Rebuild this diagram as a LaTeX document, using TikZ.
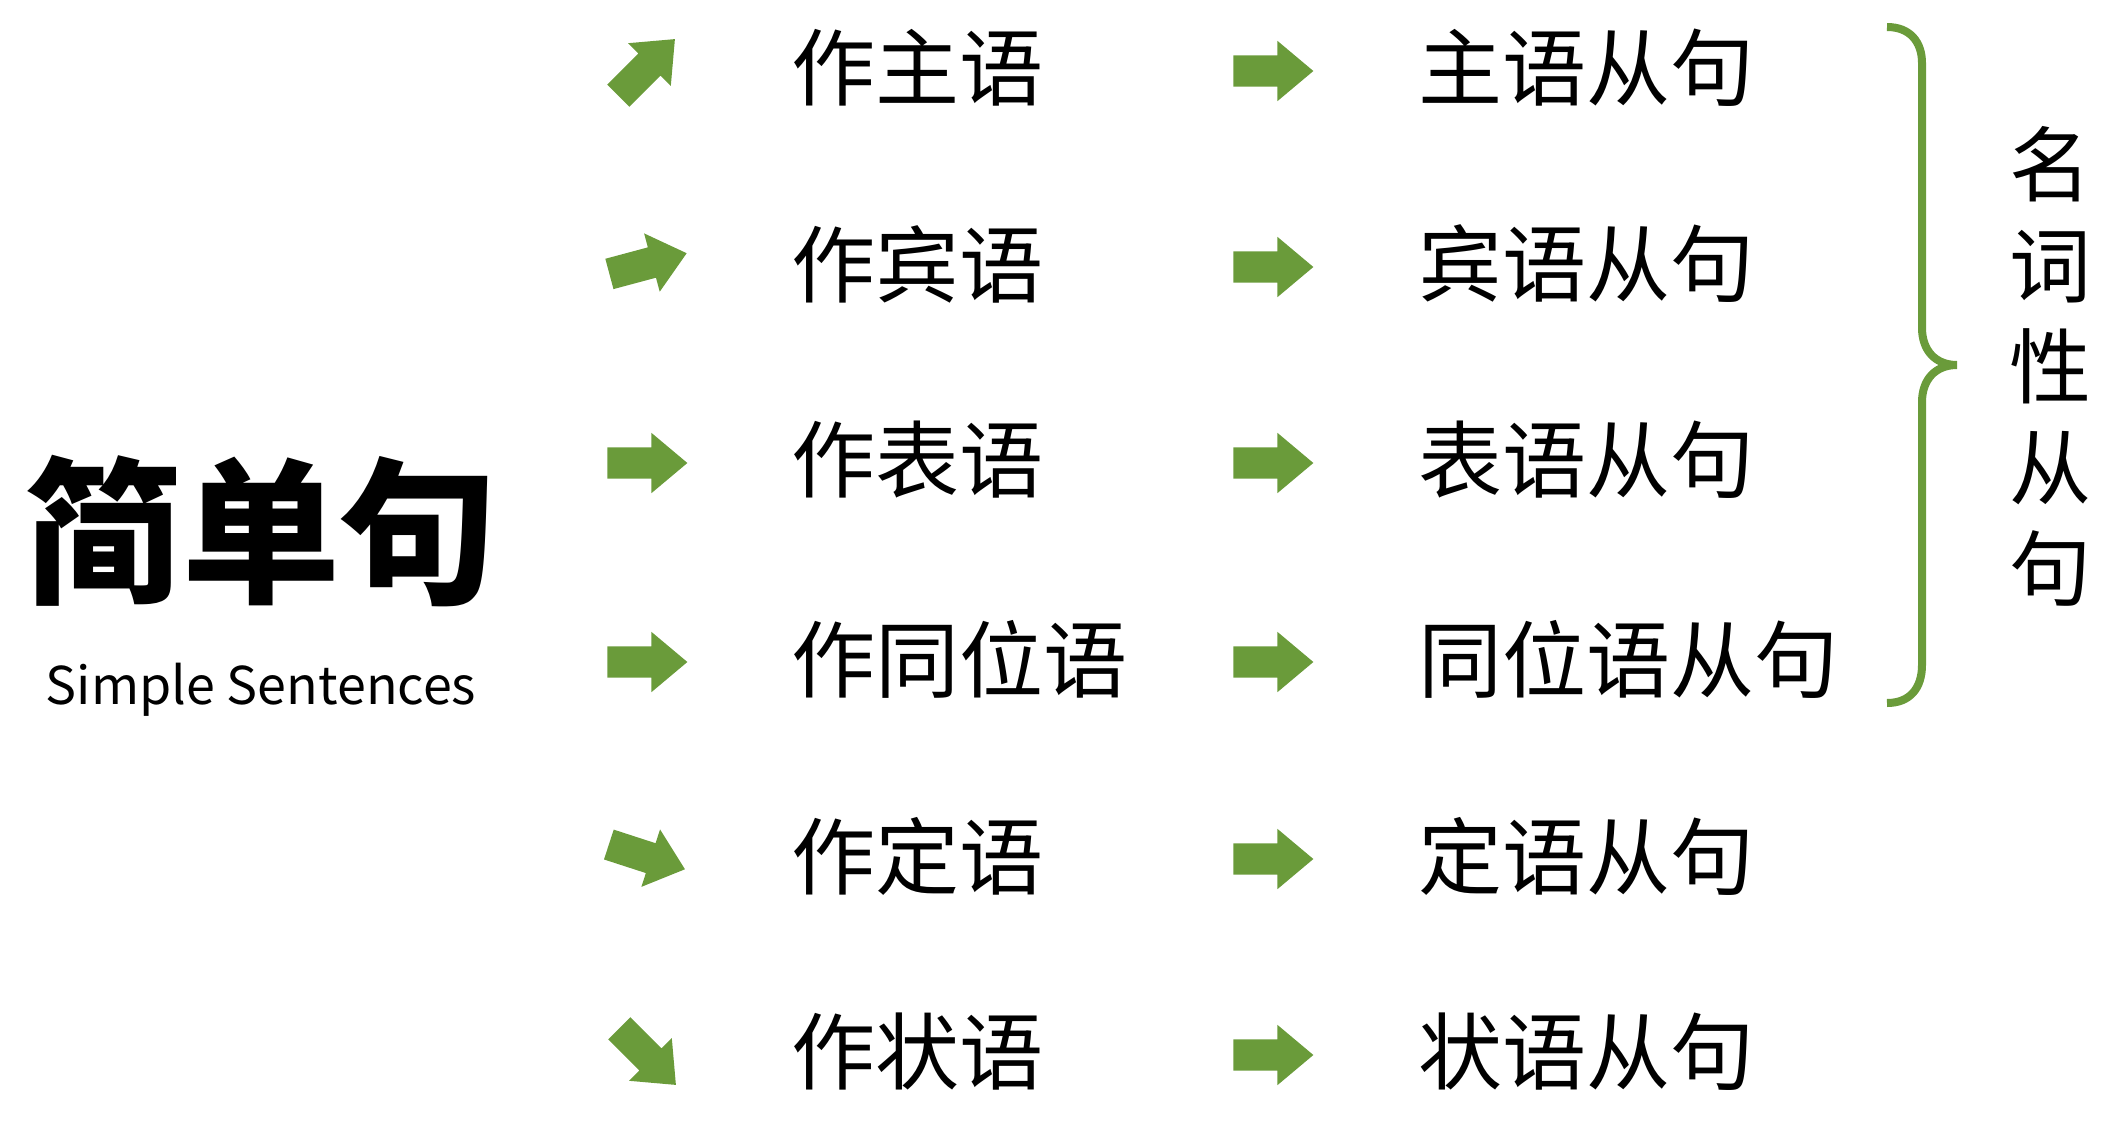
\documentclass[tikz,border=0pt]{standalone}
\usepackage{fontspec}
\setmainfont{Noto Sans CJK SC}
\usetikzlibrary{shapes.arrows}
\definecolor{ag}{RGB}{106,155,58}
\tikzset{
  blk/.style={single arrow, fill=ag, draw=none, inner xsep=0pt, inner ysep=15.5pt,
    single arrow head extend=14.5pt, single arrow tip angle=80, minimum height=80pt, outer sep=0pt},
  lbl/.style={anchor=west, inner sep=0pt, font=\fontsize{84}{100}\selectfont},
}
\begin{document}
\begin{tikzpicture}[x=1pt,y=-1pt]
\useasboundingbox (0,0) rectangle (2121,1122);
% title
\node[inner sep=0pt, font=\fontsize{158}{170}\selectfont\bfseries] (title) at (261,531) {简单句};
\node[inner sep=0pt, font=\fontsize{52}{62}\selectfont] (sub) at (261,690) {Simple Sentences};
% rows
\node[blk, rotate=45] (a1) at (640,74) {};
\node[blk, rotate=15] (a2) at (639,266) {};
\node[blk] (a3) at (638,463) {};
\node[blk] (a4) at (638,662) {};
\node[blk, rotate=-18] (a5) at (638,854) {};
\node[blk, rotate=-45] (a6) at (641,1050) {};
\node[lbl] (l1) at (791,68) {作主语};
\node[lbl] (l2) at (791,264) {作宾语};
\node[lbl] (l3) at (791,460) {作表语};
\node[lbl] (l4) at (791,659) {作同位语};
\node[lbl] (l5) at (791,856) {作定语};
\node[lbl] (l6) at (791,1052) {作状语};
\node[blk] (m1) at (1264,71) {};
\node[blk] (m2) at (1264,267) {};
\node[blk] (m3) at (1264,463) {};
\node[blk] (m4) at (1264,662) {};
\node[blk] (m5) at (1264,859) {};
\node[blk] (m6) at (1264,1055) {};
\node[lbl] (r1) at (1418,68) {主语从句};
\node[lbl] (r2) at (1418,264) {宾语从句};
\node[lbl] (r3) at (1418,460) {表语从句};
\node[lbl] (r4) at (1418,659) {同位语从句};
\node[lbl] (r5) at (1418,856) {定语从句};
\node[lbl] (r6) at (1418,1052) {状语从句};
% brace
\coordinate (bt) at (1887,27);
\coordinate (bb) at (1887,703);
\draw[ag, line width=8pt] (bt) .. controls (1910,27) and (1922,42) .. (1922,63)
  -- (1922,328) .. controls (1922,350) and (1935,365) .. (1957,365)
  .. controls (1935,365) and (1922,380) .. (1922,402)
  -- (1922,665) .. controls (1922,688) and (1910,703) .. (bb);
\node[inner sep=0pt, align=center, font=\fontsize{82}{101}\selectfont] (side) at (2050,366) {名\\词\\性\\从\\句};
\end{tikzpicture}
\end{document}
